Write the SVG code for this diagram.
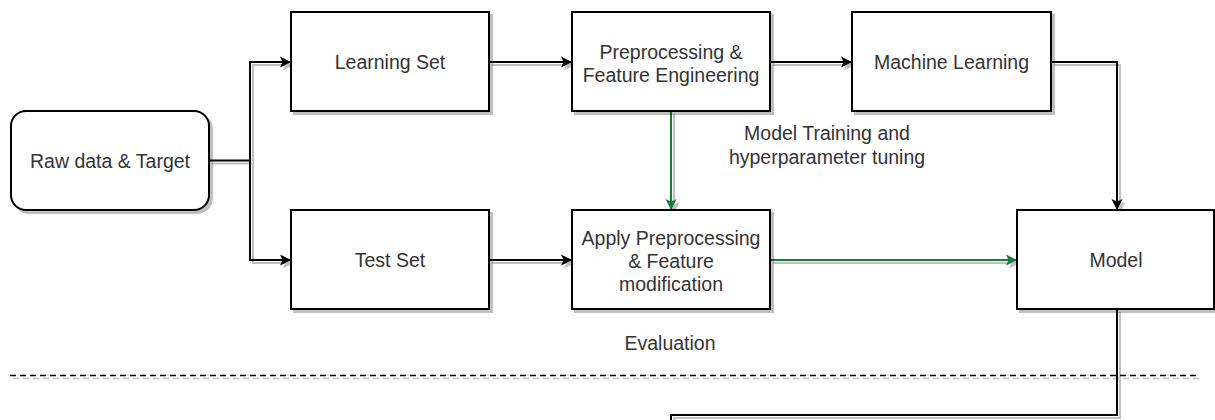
<svg xmlns="http://www.w3.org/2000/svg" width="1215" height="420" viewBox="0 0 1215 420">
  <style>
    .box { fill: #ffffff; stroke: #000000; stroke-width: 2; filter: url(#shadow); }
    .label { font-family: "Liberation Sans", Arial, Helvetica, sans-serif; font-size: 19.5px; fill: #333333; text-anchor: middle; }
    .edge { fill: none; stroke: #000000; stroke-width: 2; }
    .edge-green { fill: none; stroke: #1b7a3d; stroke-width: 2; }
    .divider { fill: none; stroke: #000000; stroke-width: 1.5; stroke-dasharray: 6 4; }
  </style>
  <defs>
    <filter id="shadow" x="-10%" y="-10%" width="130%" height="140%">
      <feDropShadow dx="3" dy="3" stdDeviation="0.6" flood-color="#000000" flood-opacity="0.25"/>
    </filter>
    <marker id="arrow" markerUnits="userSpaceOnUse" markerWidth="12" markerHeight="12" refX="11" refY="6" orient="auto">
      <path d="M0,0.5 L11,6 L0,11.5 L2.5,6 z" fill="#000000"/>
    </marker>
    <marker id="arrow-green" markerUnits="userSpaceOnUse" markerWidth="12" markerHeight="12" refX="11" refY="6" orient="auto">
      <path d="M0,0.5 L11,6 L0,11.5 L2.5,6 z" fill="#1b7a3d"/>
    </marker>
  </defs>

  <rect width="1215" height="420" fill="#ffffff"/>

  <!-- connectors -->
  <g id="connectors" filter="url(#shadow)">
    <polyline class="edge" points="209,160.5 250,160.5 250,62 291,62" marker-end="url(#arrow)"/>
    <polyline class="edge" points="250,160.5 250,260 291,260" marker-end="url(#arrow)"/>
    <line class="edge" x1="489" y1="62" x2="572" y2="62" marker-end="url(#arrow)"/>
    <line class="edge" x1="489" y1="260" x2="572" y2="260" marker-end="url(#arrow)"/>
    <line class="edge" x1="770" y1="62" x2="852" y2="62" marker-end="url(#arrow)"/>
    <polyline class="edge" points="1051,62 1117,62 1117,210" marker-end="url(#arrow)"/>
    <line class="edge-green" x1="671" y1="111" x2="671" y2="210" marker-end="url(#arrow-green)"/>
    <line class="edge-green" x1="770" y1="260" x2="1017" y2="260" marker-end="url(#arrow-green)"/>
    <polyline class="edge" points="1117,309 1117,415 671,415 671,430"/>
    <line class="divider" x1="10" y1="375.5" x2="1197" y2="375.5"/>
  </g>

  <!-- nodes -->
  <g id="raw-data">
    <rect class="box" x="11" y="111" width="198" height="99" rx="15" ry="15"/>
    <text class="label" x="110" y="167.5">Raw data &amp; Target</text>
  </g>
  <g id="learning-set">
    <rect class="box" x="291" y="12" width="198" height="99"/>
    <text class="label" x="390" y="68.5">Learning Set</text>
  </g>
  <g id="test-set">
    <rect class="box" x="291" y="210" width="198" height="99"/>
    <text class="label" x="390" y="266.5">Test Set</text>
  </g>
  <g id="preprocessing">
    <rect class="box" x="572" y="12" width="198" height="99"/>
    <text class="label" x="671" y="58.5">Preprocessing &amp;</text>
    <text class="label" x="671" y="82">Feature Engineering</text>
  </g>
  <g id="apply-preprocessing">
    <rect class="box" x="572" y="210" width="198" height="99"/>
    <text class="label" x="671" y="245">Apply Preprocessing</text>
    <text class="label" x="671" y="268">&amp; Feature</text>
    <text class="label" x="671" y="291">modification</text>
  </g>
  <g id="machine-learning">
    <rect class="box" x="852" y="12" width="199" height="99"/>
    <text class="label" x="951.5" y="69">Machine Learning</text>
  </g>
  <g id="model">
    <rect class="box" x="1017" y="210" width="197" height="99"/>
    <text class="label" x="1116" y="266.5">Model</text>
  </g>

  <!-- free labels -->
  <g id="training-label">
    <text class="label" x="827" y="139.5">Model Training and</text>
    <text class="label" x="827" y="163.5">hyperparameter tuning</text>
  </g>
  <g id="evaluation-label">
    <text class="label" x="670" y="350">Evaluation</text>
  </g>
</svg>
